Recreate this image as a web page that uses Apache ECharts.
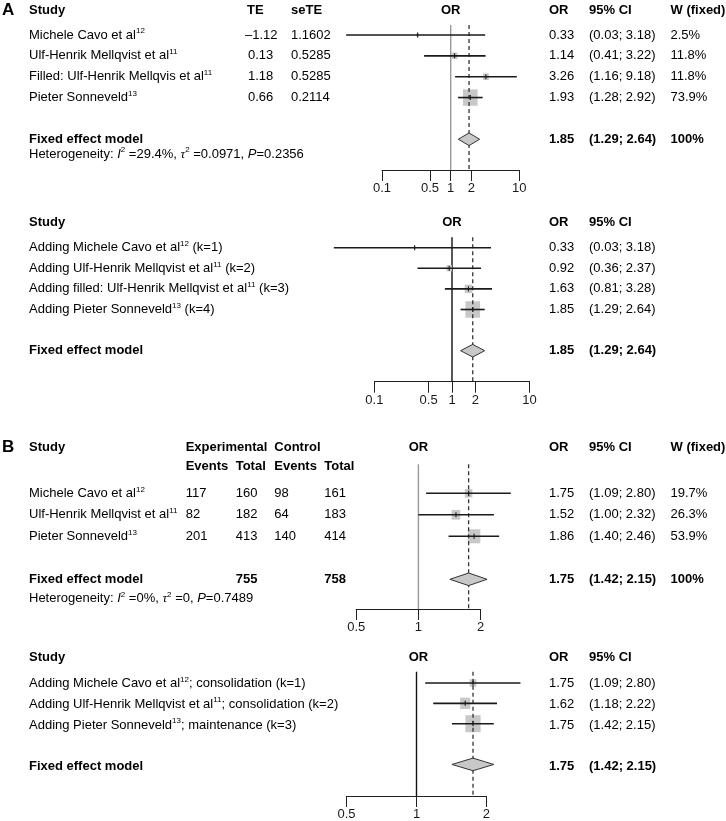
<!DOCTYPE html>
<html><head><meta charset="utf-8">
<script src="https://cdn.jsdelivr.net/npm/echarts@6/dist/echarts.min.js"></script>
<style>html,body{margin:0;padding:0;background:#fff}#c{width:726px;height:821px}</style>
</head><body><div id="c"></div><script>
// ================= DATA =================
// Panel A (top): fixed-effect meta-analysis with trim-and-fill
const studiesA = ['Michele Cavo et al', 'Ulf-Henrik Mellqvist et al', 'Filled: Ulf-Henrik Mellqvis et al', 'Pieter Sonneveld'];
const refsA = ['12', '11', '11', '13'];
const teA = [-1.12, 0.13, 1.18, 0.66];
const seTEA = [1.1602, 0.5285, 0.5285, 0.2114];
const orA = [0.33, 1.14, 3.26, 1.93];
const lowerA = [0.03, 0.41, 1.16, 1.28];
const upperA = [3.18, 3.22, 9.18, 2.92];
const weightA = [2.5, 11.8, 11.8, 73.9];
const pooledA = [1.85, 1.29, 2.64];            // OR, lower, upper
const hetA = ['29.4%', '0.0971', '0.2356'];     // I2, tau2, P

// Panel A (bottom): cumulative meta-analysis
const cumStudiesA = ['Adding Michele Cavo et al', 'Adding Ulf-Henrik Mellqvist et al', 'Adding filled: Ulf-Henrik Mellqvist et al', 'Adding Pieter Sonneveld'];
const cumRefsA = ['12', '11', '11', '13'];
const cumSuffixA = [' (k=1)', ' (k=2)', ' (k=3)', ' (k=4)'];
const cumOrA = [0.33, 0.92, 1.63, 1.85];
const cumLowerA = [0.03, 0.36, 0.81, 1.29];
const cumUpperA = [3.18, 2.37, 3.28, 2.64];
const cumWeightA = [1.7, 10.0, 18.3, 70.0];    // estimated from square sizes
const cumPooledA = [1.85, 1.29, 2.64];

// Panel B (top): fixed-effect meta-analysis
const studiesB = ['Michele Cavo et al', 'Ulf-Henrik Mellqvist et al', 'Pieter Sonneveld'];
const refsB = ['12', '11', '13'];
const expEventsB = [117, 82, 201];
const expTotalB = [160, 182, 413];
const ctrlEventsB = [98, 64, 140];
const ctrlTotalB = [161, 183, 414];
const orB = [1.75, 1.52, 1.86];
const lowerB = [1.09, 1.00, 1.40];
const upperB = [2.80, 2.32, 2.46];
const weightB = [19.7, 26.3, 53.9];
const pooledB = [1.75, 1.42, 2.15];
const totalsB = [755, 758];
const hetB = ['0%', '0', '0.7489'];

// Panel B (bottom): cumulative meta-analysis
const cumStudiesB = ['Adding Michele Cavo et al', 'Adding Ulf-Henrik Mellqvist et al', 'Adding Pieter Sonneveld'];
const cumRefsB = ['12', '11', '13'];
const cumSuffixB = ['; consolidation (k=1)', '; consolidation (k=2)', '; maintenance (k=3)'];
const cumOrB = [1.75, 1.62, 1.75];
const cumLowerB = [1.09, 1.18, 1.42];
const cumUpperB = [2.80, 2.22, 2.15];
const cumWeightB = [12, 27, 61];               // estimated from square sizes
const cumPooledB = [1.75, 1.42, 2.15];

const ticksA = [0.1, 0.5, 1, 2, 10];
const ticksB = [0.5, 1, 2];

// ================= LAYOUT =================
const L = [
  {one:450.7, dec:68.65, ticks:ticksA, row1:35,    rowH:20.85, top:25,    base:170,   nullColor:'#9a9a9a', sq:1.7, fixedRow:6},
  {one:452.0, dec:77.6,  ticks:ticksA, row1:247.7, rowH:20.6,  top:237.3, base:381.7, nullColor:'#111',    sq:1.75, fixedRow:6},
  {one:418.4, dec:206.6, ticks:ticksB, row1:493.3, rowH:21.5,  top:464.3, base:609,   nullColor:'#9a9a9a', sq:1.7, fixedRow:5},
  {one:416.5, dec:232.5, ticks:ticksB, row1:683.3, rowH:20.9,  top:671.7, base:799.3, nullColor:'#111',    sq:1.95, fixedRow:5}
];
const FONT = '"Liberation Sans", Arial, Helvetica, sans-serif';
const TXT = '#1a1a1a';
const lg = Math.log10;
function rowY(p, idx) { return L[p].row1 + (idx - 1) * L[p].rowH; }

const rich = {
  n: {fontSize:13, fontFamily:FONT, color:TXT, lineHeight:16},
  b: {fontSize:13, fontFamily:FONT, fontWeight:'bold', color:TXT, lineHeight:16},
  i: {fontSize:13, fontFamily:FONT, fontStyle:'italic', color:TXT, lineHeight:16},
  t: {fontSize:13, fontFamily:'"Liberation Serif", serif', fontStyle:'italic', color:TXT, lineHeight:16},
  s: {fontSize:8, fontFamily:FONT, color:'#333', lineHeight:8, verticalAlign:'top'},
  big: {fontSize:17, fontFamily:FONT, fontWeight:'bold', color:TXT, lineHeight:18}
};
const graphics = [];
function T(x, y, text, align) {
  graphics.push({type:'text', x:x, y:y, silent:true,
    style:{text:text, rich:rich, align:align || 'left', verticalAlign:'middle'}});
}
const n = s => '{n|' + s + '}';
const b = s => '{b|' + s + '}';
const sup = s => '{s|' + s + '}';
const f2 = v => (v < 0 ? '\u2013' : '') + Math.abs(v).toFixed(2);
const ci = (lo, hi) => '(' + lo.toFixed(2) + '; ' + hi.toFixed(2) + ')';
const het = h => n('Heterogeneity: ') + '{i|I}' + sup('2') + n(' =' + h[0] + ', ') + '{t|\u03c4}' + sup('2') + n(' =' + h[1] + ', ') + '{i|P}' + n('=' + h[2]);

const C_OR = 549, C_CI = 589, C_W = 670.5, C_STUDY = 29;

// ---- Panel A top texts ----
(function () {
  const p = 0, hy = rowY(p, 1) - 25;
  T(2, hy, '{big|A}');
  T(C_STUDY, hy, b('Study')); T(247, hy, b('TE')); T(291, hy, b('seTE'));
  T(L[p].one, hy, b('OR'), 'center');
  T(C_OR, hy, b('OR')); T(C_CI, hy, b('95% CI')); T(C_W, hy, b('W (fixed)'));
  studiesA.forEach((s, k) => {
    const y = rowY(p, k + 1);
    T(C_STUDY, y, n(s) + sup(refsA[k]));
    T(teA[k] < 0 ? 245 : 248, y, n(f2(teA[k])));
    T(291, y, n(seTEA[k].toFixed(4)));
    T(C_OR, y, n(orA[k].toFixed(2)));
    T(C_CI, y, n(ci(lowerA[k], upperA[k])));
    T(C_W, y, n(weightA[k].toFixed(1) + '%'));
  });
  const fy = rowY(p, L[p].fixedRow);
  T(C_STUDY, fy, b('Fixed effect model'));
  T(C_OR, fy, b(pooledA[0].toFixed(2))); T(C_CI, fy, b(ci(pooledA[1], pooledA[2]))); T(C_W, fy, b('100%'));
  T(C_STUDY, fy + 15, het(hetA));
})();
// ---- Panel A bottom texts ----
(function () {
  const p = 1, hy = rowY(p, 1) - 25.4;
  T(C_STUDY, hy, b('Study'));
  T(L[p].one, hy, b('OR'), 'center');
  T(C_OR, hy, b('OR')); T(C_CI, hy, b('95% CI'));
  cumStudiesA.forEach((s, k) => {
    const y = rowY(p, k + 1);
    T(C_STUDY, y, n(s) + sup(cumRefsA[k]) + n(cumSuffixA[k]));
    T(C_OR, y, n(cumOrA[k].toFixed(2)));
    T(C_CI, y, n(ci(cumLowerA[k], cumUpperA[k])));
  });
  const fy = rowY(p, L[p].fixedRow);
  T(C_STUDY, fy, b('Fixed effect model'));
  T(C_OR, fy, b(cumPooledA[0].toFixed(2))); T(C_CI, fy, b(ci(cumPooledA[1], cumPooledA[2])));
})();
// ---- Panel B top texts ----
(function () {
  const p = 2, hy = rowY(p, 1) - 45.6, hy2 = rowY(p, 1) - 26.6;
  T(2, hy, '{big|B}');
  T(C_STUDY, hy, b('Study'));
  T(185.7, hy, b('Experimental')); T(274.3, hy, b('Control'));
  T(185.7, hy2, b('Events')); T(235.7, hy2, b('Total')); T(274.3, hy2, b('Events')); T(324.3, hy2, b('Total'));
  T(L[p].one, hy, b('OR'), 'center');
  T(C_OR, hy, b('OR')); T(C_CI, hy, b('95% CI')); T(C_W, hy, b('W (fixed)'));
  studiesB.forEach((s, k) => {
    const y = rowY(p, k + 1);
    T(C_STUDY, y, n(s) + sup(refsB[k]));
    T(185.7, y, n(String(expEventsB[k]))); T(235.7, y, n(String(expTotalB[k])));
    T(274.3, y, n(String(ctrlEventsB[k]))); T(324.3, y, n(String(ctrlTotalB[k])));
    T(C_OR, y, n(orB[k].toFixed(2)));
    T(C_CI, y, n(ci(lowerB[k], upperB[k])));
    T(C_W, y, n(weightB[k].toFixed(1) + '%'));
  });
  const fy = rowY(p, L[p].fixedRow);
  T(C_STUDY, fy, b('Fixed effect model'));
  T(235.7, fy, b(String(totalsB[0]))); T(324.3, fy, b(String(totalsB[1])));
  T(C_OR, fy, b(pooledB[0].toFixed(2))); T(C_CI, fy, b(ci(pooledB[1], pooledB[2]))); T(C_W, fy, b('100%'));
  T(C_STUDY, fy + 19, het(hetB));
})();
// ---- Panel B bottom texts ----
(function () {
  const p = 3, hy = rowY(p, 1) - 25.6;
  T(C_STUDY, hy, b('Study'));
  T(L[p].one + 2, hy, b('OR'), 'center');
  T(C_OR, hy, b('OR')); T(C_CI, hy, b('95% CI'));
  cumStudiesB.forEach((s, k) => {
    const y = rowY(p, k + 1);
    T(C_STUDY, y, n(s) + sup(cumRefsB[k]) + n(cumSuffixB[k]));
    T(C_OR, y, n(cumOrB[k].toFixed(2)));
    T(C_CI, y, n(ci(cumLowerB[k], cumUpperB[k])));
  });
  const fy = rowY(p, L[p].fixedRow);
  T(C_STUDY, fy, b('Fixed effect model'));
  T(C_OR, fy, b(cumPooledB[0].toFixed(2))); T(C_CI, fy, b(ci(cumPooledB[1], cumPooledB[2])));
})();

// ================= PLOT SERIES =================
// item: [est, lower, upper, row, weight, kind]  kind 0=study 1=diamond 2=null line 3=pooled dashed line
function buildItems(or, lo, hi, w, pooled, fixedRow) {
  const items = or.map((v, k) => [v, lo[k], hi[k], k + 1, w[k], 0]);
  items.push([pooled[0], pooled[1], pooled[2], fixedRow, 0, 1]);
  items.push([1, 1, 1, fixedRow, 0, 2]);
  items.push([pooled[0], pooled[0], pooled[0], fixedRow, 0, 3]);
  return items;
}
const panelData = [
  buildItems(orA, lowerA, upperA, weightA, pooledA, L[0].fixedRow),
  buildItems(cumOrA, cumLowerA, cumUpperA, cumWeightA, cumPooledA, L[1].fixedRow),
  buildItems(orB, lowerB, upperB, weightB, pooledB, L[2].fixedRow),
  buildItems(cumOrB, cumLowerB, cumUpperB, cumWeightB, cumPooledB, L[3].fixedRow)
];

const grids = [], xAxes = [], yAxes = [], series = [];
L.forEach((P, i) => {
  const tmin = P.ticks[0], tmax = P.ticks[P.ticks.length - 1];
  grids.push({left: P.one + P.dec * lg(tmin), width: P.dec * (lg(tmax) - lg(tmin)), top: P.top, height: P.base - P.top});
  xAxes.push({
    type:'log', logBase:10, gridIndex:i, min:tmin, max:tmax, position:'bottom',
    axisLine:{show:true, onZero:false, lineStyle:{color:'#222', width:1}},
    axisTick:{show:true, length:11, customValues:P.ticks, lineStyle:{color:'#222', width:1}},
    axisLabel:{show:true, customValues:P.ticks, margin:12, fontSize:13, fontFamily:FONT, color:TXT,
      formatter: v => String(+(+v).toPrecision(3))},
    splitLine:{show:false}, minorTick:{show:false}, minorSplitLine:{show:false}
  });
  const yMin = 1 - (P.row1 - P.top) / P.rowH, yMax = 1 + (P.base - P.row1) / P.rowH;
  yAxes.push({type:'value', gridIndex:i, inverse:true, min:yMin, max:yMax, show:false});
  series.push({
    type:'custom', xAxisIndex:i, yAxisIndex:i, clip:false, silent:true,
    data: panelData[i],
    encode:{x:[0,1,2], y:3},
    renderItem: function (params, api) {
      const kind = api.value(5), row = api.value(3), est = api.value(0);
      const cs = params.coordSys;
      if (kind === 2 || kind === 3) {
        const x = api.coord([est, row])[0];
        return {type:'line', z2: kind === 2 ? 0 : 2,
          shape:{x1:x, y1:cs.y, x2:x, y2:cs.y + cs.height},
          style:{stroke: kind === 2 ? P.nullColor : '#333', lineWidth: kind === 2 ? 1.4 : 1.3,
                 lineDash: kind === 3 ? [4, 3] : null}};
      }
      const c = api.coord([est, row]);
      const l = api.coord([api.value(1), row]);
      const h = api.coord([api.value(2), row]);
      if (kind === 1) {
        const hh = 6.3;
        return {type:'polygon', z2:4,
          shape:{points:[[l[0], c[1]], [c[0], c[1] - hh], [h[0], c[1]], [c[0], c[1] + hh]]},
          style:{fill:'#c8c8c8', stroke:'#333', lineWidth:1}};
      }
      const side = P.sq * Math.sqrt(api.value(4));
      const sh = side * 1.12;
      return {type:'group', children:[
        {type:'rect', z2:1, shape:{x:c[0] - side / 2, y:c[1] - sh / 2, width:side, height:sh},
          style:{fill:'#c8c8c8'}},
        {type:'line', z2:3, shape:{x1:l[0], y1:c[1], x2:h[0], y2:c[1]},
          style:{stroke:'#1a1a1a', lineWidth:1.6}},
        {type:'line', z2:3, shape:{x1:c[0], y1:c[1] - 2.5, x2:c[0], y2:c[1] + 2.5},
          style:{stroke:'#1a1a1a', lineWidth:1.1}}
      ]};
    }
  });
});

const chart = echarts.init(document.getElementById('c'), null, {renderer:'canvas'});
chart.setOption({
  animation:false,
  backgroundColor:'#fff',
  grid: grids, xAxis: xAxes, yAxis: yAxes, series: series,
  graphic: {elements: graphics}
});
</script></body></html>
